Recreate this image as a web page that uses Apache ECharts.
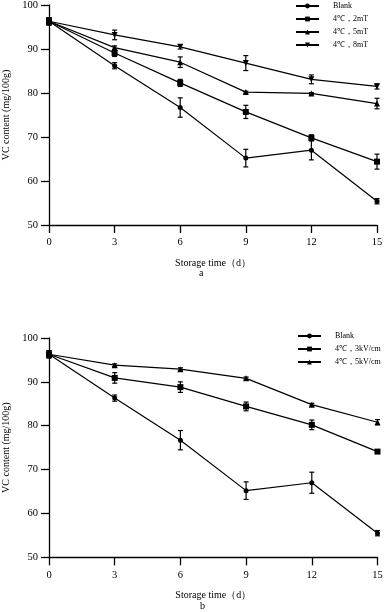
<!DOCTYPE html>
<html><head><meta charset="utf-8">
<script src="https://cdn.jsdelivr.net/npm/echarts@6/dist/echarts.min.js"></script>
<style>html,body{margin:0;padding:0;background:#fff}#c{width:387px;height:612px}</style>
</head><body><div id="c"></div>
<script>
const days = [0, 3, 6, 9, 12, 15];
const xTicks = [0, 3, 6, 9, 12, 15];
const yTicks = [50, 60, 70, 80, 90, 100];

// Chart a
const namesA = ['Blank', '4℃，2mT', '4℃，5mT', '4℃，8mT'];
const blankA = [96.3, 86.2, 76.7, 65.2, 67.0, 55.4];
const blankAErr = [0.8, 0.7, 2.2, 2.0, 2.2, 0.6];
const mT2 = [96.3, 89.1, 82.3, 75.7, 69.8, 64.4];
const mT2Err = [0.8, 0.8, 0.8, 1.5, 0.7, 1.7];
const mT5 = [96.3, 90.3, 87.0, 80.2, 79.9, 77.6];
const mT5Err = [0.8, 0.4, 1.2, 0.2, 0.2, 1.2];
const mT8 = [96.3, 93.2, 90.5, 86.8, 83.1, 81.5];
const mT8Err = [0.8, 1.1, 0.5, 1.7, 1.0, 0.6];

// Chart b
const namesB = ['Blank', '4℃，3kV/cm', '4℃，5kV/cm'];
const blankB = [96.3, 86.3, 76.7, 65.2, 67.0, 55.5];
const blankBErr = [0.8, 0.7, 2.2, 2.0, 2.4, 0.6];
const kV3 = [96.3, 90.9, 88.8, 84.4, 80.2, 74.1];
const kV3Err = [0.8, 1.2, 1.2, 1.0, 1.1, 0.3];
const kV5 = [96.3, 93.8, 92.9, 90.8, 84.8, 80.8];
const kV5Err = [0.8, 0.3, 0.3, 0.3, 0.3, 0.6];

const FONT = 'Liberation Serif';
const symbols = ['circle', 'rect', 'triangle', 'triangle'];
const rotates = [0, 0, 0, 180];
const sizes = [5, 6, 6, 6];

function pairs(vals) { return days.map((d, i) => [d, vals[i]]); }
function errData(vals, errs) { return days.map((d, i) => [d, vals[i], errs[i]]); }

function lineSeries(name, vals, idx, k) {
  return {
    type: 'line', name: name, data: pairs(vals), xAxisIndex: idx, yAxisIndex: idx,
    symbol: symbols[k], symbolRotate: rotates[k], symbolSize: sizes[k],
    lineStyle: { color: '#000', width: 1.2 }, itemStyle: { color: '#000' },
    z: 3, animation: false
  };
}
function errSeries(vals, errs, idx) {
  return {
    type: 'custom', xAxisIndex: idx, yAxisIndex: idx, data: errData(vals, errs),
    encode: { x: 0, y: 1 }, z: 4, animation: false, silent: true,
    renderItem: function (params, api) {
      const x = api.value(0), y = api.value(1), e = api.value(2);
      const hi = api.coord([x, y + e]), lo = api.coord([x, y - e]);
      const w = 2.5;
      const st = { stroke: '#000', lineWidth: 1.2 };
      return { type: 'group', children: [
        { type: 'line', shape: { x1: hi[0], y1: hi[1], x2: lo[0], y2: lo[1] }, style: st },
        { type: 'line', shape: { x1: hi[0] - w, y1: hi[1], x2: hi[0] + w, y2: hi[1] }, style: st },
        { type: 'line', shape: { x1: lo[0] - w, y1: lo[1], x2: lo[0] + w, y2: lo[1] }, style: st }
      ]};
    }
  };
}
function xAx(idx) {
  return {
    type: 'value', gridIndex: idx, min: xTicks[0], max: xTicks[xTicks.length - 1], interval: 3,
    name: 'Storage time（d）', nameLocation: 'middle', nameGap: 33,
    nameTextStyle: { fontFamily: FONT, fontSize: 10, color: '#000' },
    axisLine: { lineStyle: { color: '#000', width: 1.3 } },
    axisTick: { show: true, length: 8, lineStyle: { color: '#000', width: 1.3 } },
    axisLabel: { fontFamily: FONT, fontSize: 10.5, color: '#000', margin: 12 },
    splitLine: { show: false }
  };
}
function yAx(idx) {
  return {
    type: 'value', gridIndex: idx, min: yTicks[0], max: yTicks[yTicks.length - 1], interval: 10,
    name: 'VC content (mg/100g)', nameLocation: 'middle', nameGap: 34,
    nameTextStyle: { fontFamily: FONT, fontSize: 10, color: '#000' },
    axisLine: { show: true, lineStyle: { color: '#000', width: 1.3 } },
    axisTick: { show: true, length: 8, lineStyle: { color: '#000', width: 1.3 } },
    axisLabel: { fontFamily: FONT, fontSize: 10.5, color: '#000', margin: 11 },
    splitLine: { show: false }
  };
}

const series = [];
[blankA, mT2, mT5, mT8].forEach((v, k) => series.push(lineSeries(namesA[k], v, 0, k)));
[blankAErr, mT2Err, mT5Err, mT8Err].forEach((e, k) => series.push(errSeries([blankA, mT2, mT5, mT8][k], e, 0)));
[blankB, kV3, kV5].forEach((v, k) => series.push(lineSeries(namesB[k], v, 1, k)));
[blankBErr, kV3Err, kV5Err].forEach((e, k) => series.push(errSeries([blankB, kV3, kV5][k], e, 1)));

const legendText = { fontFamily: FONT, fontSize: 8, color: '#000', lineHeight: 12, padding: [0, 0, 0, 9] };
const chart = echarts.init(document.getElementById('c'), null, { renderer: 'canvas' });
chart.setOption({
  animation: false,
  backgroundColor: '#fff',
  grid: [
    { left: 49, right: 10, top: 5, height: 220, outerBoundsMode: 'none', containLabel: false },
    { left: 49, right: 9.5, top: 338, height: 219.3, outerBoundsMode: 'none', containLabel: false }
  ],
  xAxis: [xAx(0), xAx(1)],
  yAxis: [yAx(0), yAx(1)],
  legend: [
    { data: namesA, orient: 'vertical', left: 295, top: 0, padding: 0, itemWidth: 23, itemHeight: 6, itemGap: 1,
      textStyle: legendText, selectedMode: false },
    { data: namesB, orient: 'vertical', left: 297, top: 330, padding: 0, itemWidth: 23, itemHeight: 6, itemGap: 1,
      textStyle: legendText, selectedMode: false },
  ],
  graphic: [
    { type: 'text', left: 199, top: 268, style: { text: 'a', font: '10px "Liberation Serif"', fill: '#000' } },
    { type: 'text', left: 200, top: 601, style: { text: 'b', font: '10px "Liberation Serif"', fill: '#000' } }
  ],
  series: series
});
</script>
</body></html>
